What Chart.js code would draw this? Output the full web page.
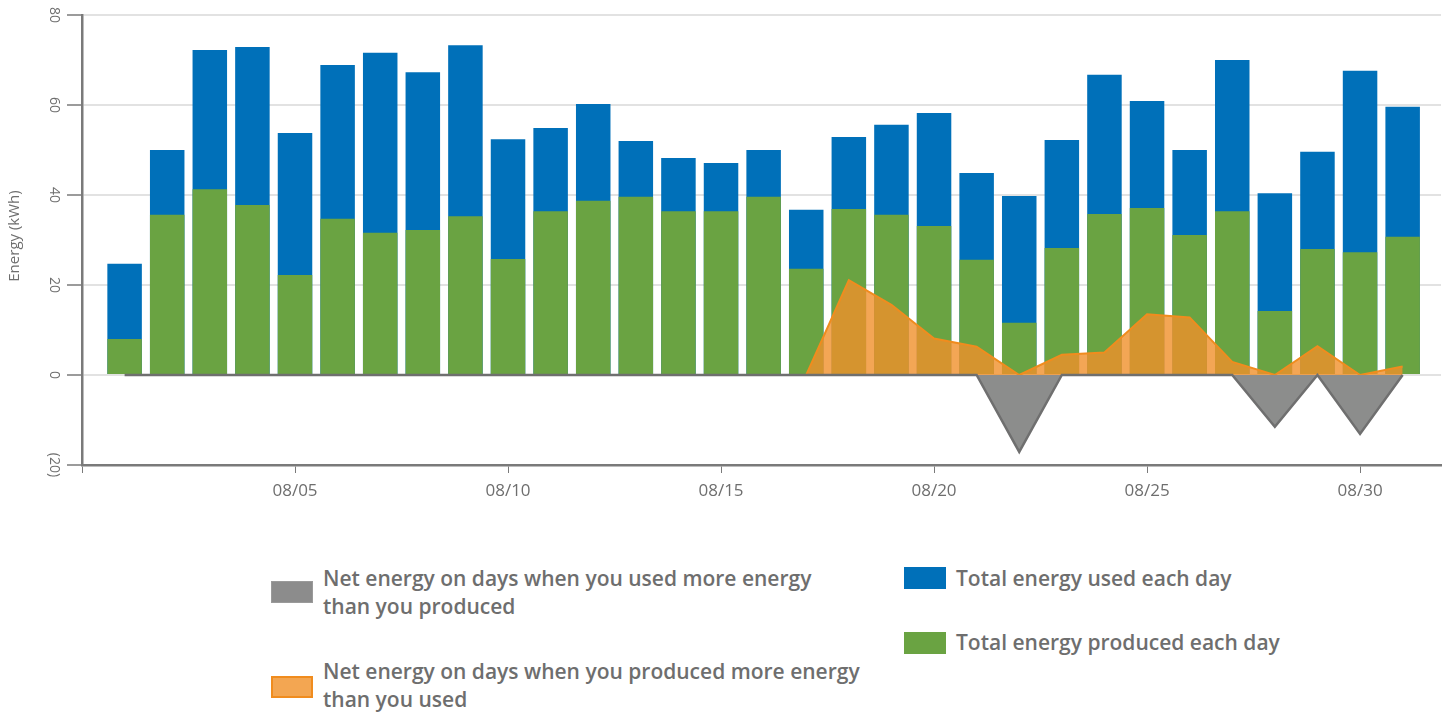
<!DOCTYPE html>
<html>
<head>
<meta charset="utf-8">
<script src="https://cdn.jsdelivr.net/npm/chart.js@4.4.1/dist/chart.umd.min.js"></script>
<style>
  html, body { margin: 0; padding: 0; background: #fff; width: 1450px; height: 712px; overflow: hidden; font-family: 'Open Sans', sans-serif; }
  #wrap { position: absolute; left: 0; top: 0; width: 1450px; height: 520px; }
  .lg { position: absolute; color: #6e6e6e; font-size: 21px; font-weight: 600; line-height: 28px; font-family: 'Open Sans', sans-serif; white-space: nowrap; }
  .box { position: absolute; width: 42px; height: 22px; box-sizing: border-box; }
</style>
</head>
<body>
<div id="wrap"><canvas id="c" width="1450" height="520"></canvas></div>

<div class="box" style="left:271px; top:581px; background:#8c8c8c; border:1px solid #9a9a9a;"></div>
<div class="lg" style="left:323px; top:564px;">Net energy on days when you used more energy<br>than you produced</div>

<div class="box" style="left:271px; top:676px; background:#f3a652; border:2px solid #f08c1e;"></div>
<div class="lg" style="left:323px; top:657px;">Net energy on days when you produced more energy<br>than you used</div>

<div class="box" style="left:904px; top:567px; background:#0070b9;"></div>
<div class="lg" style="left:956px; top:564px;">Total energy used each day</div>

<div class="box" style="left:904px; top:632px; background:#6aa342;"></div>
<div class="lg" style="left:956px; top:628px;">Total energy produced each day</div>

<script>
// ---- data ----
const days = [1,2,3,4,5,6,7,8,9,10,11,12,13,14,15,16,17,18,19,20,21,22,23,24,25,26,27,28,29,30,31];
const dateLabels = ['08/01','08/02','08/03','08/04','08/05','08/06','08/07','08/08','08/09','08/10',
  '08/11','08/12','08/13','08/14','08/15','08/16','08/17','08/18','08/19','08/20',
  '08/21','08/22','08/23','08/24','08/25','08/26','08/27','08/28','08/29','08/30','08/31'];
const used = [24.7,50,72.2,72.9,53.8,68.9,71.6,67.3,73.3,52.4,54.9,60.2,52,48.2,47.1,50,36.7,52.9,55.6,58.2,44.9,39.8,52.2,66.7,60.9,50,70,40.4,49.6,67.6,59.6];
const produced = [8,35.6,41.3,37.8,22.2,34.7,31.6,32.2,35.3,25.8,36.4,38.7,39.6,36.4,36.4,39.6,23.6,36.9,35.6,33.1,25.6,11.6,28.2,35.8,37.1,31.1,36.4,14.2,28,27.3,30.7];
const netSurplus = [null,null,null,null,null,null,null,null,null,null,null,null,null,null,null,null,0,21.1,15.6,8.1,6.3,0,4.5,5,13.5,12.8,2.9,0,6.4,0,1.9];
const netDeficit = [0,0,0,0,0,0,0,0,0,0,0,0,0,0,0,0,0,0,0,0,0,-17.1,0,0,0,0,0,-11.5,0,-13.1,0];
const yTickValues = [80,60,40,20,0,-20];
const yTickLabels = ['80','60','40','20','0','(20)'];
const yTitle = 'Energy (kWh)';

const pts = arr => days.map((d, i) => ({x: d, y: arr[i]}));
const TXT = '#6e6e6e';
const AXIS = '#7a7a7a';

const yLabelPlugin = {
  id: 'yLabels',
  afterDraw(chart) {
    const ctx = chart.ctx;
    const ys = chart.scales.y;
    ctx.save();
    ctx.fillStyle = TXT;
    ctx.textAlign = 'center';
    ctx.textBaseline = 'middle';
    ctx.font = '14px "Open Sans"';
    yTickValues.forEach((v, i) => {
      const py = ys.getPixelForValue(v);
      ctx.save();
      ctx.translate(54, py);
      ctx.rotate(Math.PI / 2);
      ctx.fillText(yTickLabels[i], 0, 0);
      ctx.restore();
    });
    const ca = chart.chartArea;
    ctx.font = '15px "Open Sans"';
    ctx.save();
    ctx.translate(15, (ca.top + ca.bottom) / 2 - 4);
    ctx.rotate(-Math.PI / 2);
    ctx.fillText(yTitle, 0, 0);
    ctx.restore();
    ctx.restore();
  }
};

new Chart(document.getElementById('c'), {
  data: {
    datasets: [
      { type: 'line', data: pts(netDeficit), order: 0, fill: 'origin',
        backgroundColor: '#8c8d8c', borderColor: '#6f6f6f', borderWidth: 2.5,
        pointRadius: 0, tension: 0 },
      { type: 'line', data: pts(netSurplus), order: 1, fill: 'origin', spanGaps: false,
        backgroundColor: 'rgba(240,144,42,0.8)', borderColor: '#f08c1e', borderWidth: 2,
        pointRadius: 0, tension: 0 },
      { type: 'bar', data: pts(produced), order: 2, grouped: false,
        backgroundColor: '#6aa342', barPercentage: 0.81, categoryPercentage: 1 },
      { type: 'bar', data: pts(used), order: 3, grouped: false,
        backgroundColor: '#0070b9', barPercentage: 0.81, categoryPercentage: 1 }
    ]
  },
  options: {
    responsive: false,
    animation: false,
    devicePixelRatio: 1,
    layout: { padding: { top: 15, right: 9, left: 0, bottom: 0 } },
    plugins: { legend: { display: false }, tooltip: { enabled: false } },
    scales: {
      x: {
        type: 'linear', min: 0, max: 31.9, offset: false,
        afterFit(scale) { scale.height = 55; },
        border: { color: AXIS, width: 2.5 },
        grid: { offset: false, drawOnChartArea: false, drawTicks: true, tickLength: 8, tickColor: AXIS, tickWidth: 1 },
        ticks: {
          stepSize: 5, includeBounds: false, padding: 8, color: TXT,
          font: { family: 'Open Sans', size: 17 },
          maxRotation: 0, minRotation: 0, autoSkip: false,
          callback: v => (v >= 1 && v <= dateLabels.length) ? dateLabels[v - 1] : ''
        }
      },
      y: {
        min: -20, max: 80,
        afterFit(scale) { scale.width = 82; },
        border: { color: AXIS, width: 2.5 },
        grid: { color: '#e2e2e2', lineWidth: 2, drawTicks: true, tickLength: 15, tickColor: AXIS, tickWidth: 1.5 },
        ticks: { stepSize: 20, display: false }
      }
    }
  },
  plugins: [yLabelPlugin]
});
</script>
</body>
</html>
